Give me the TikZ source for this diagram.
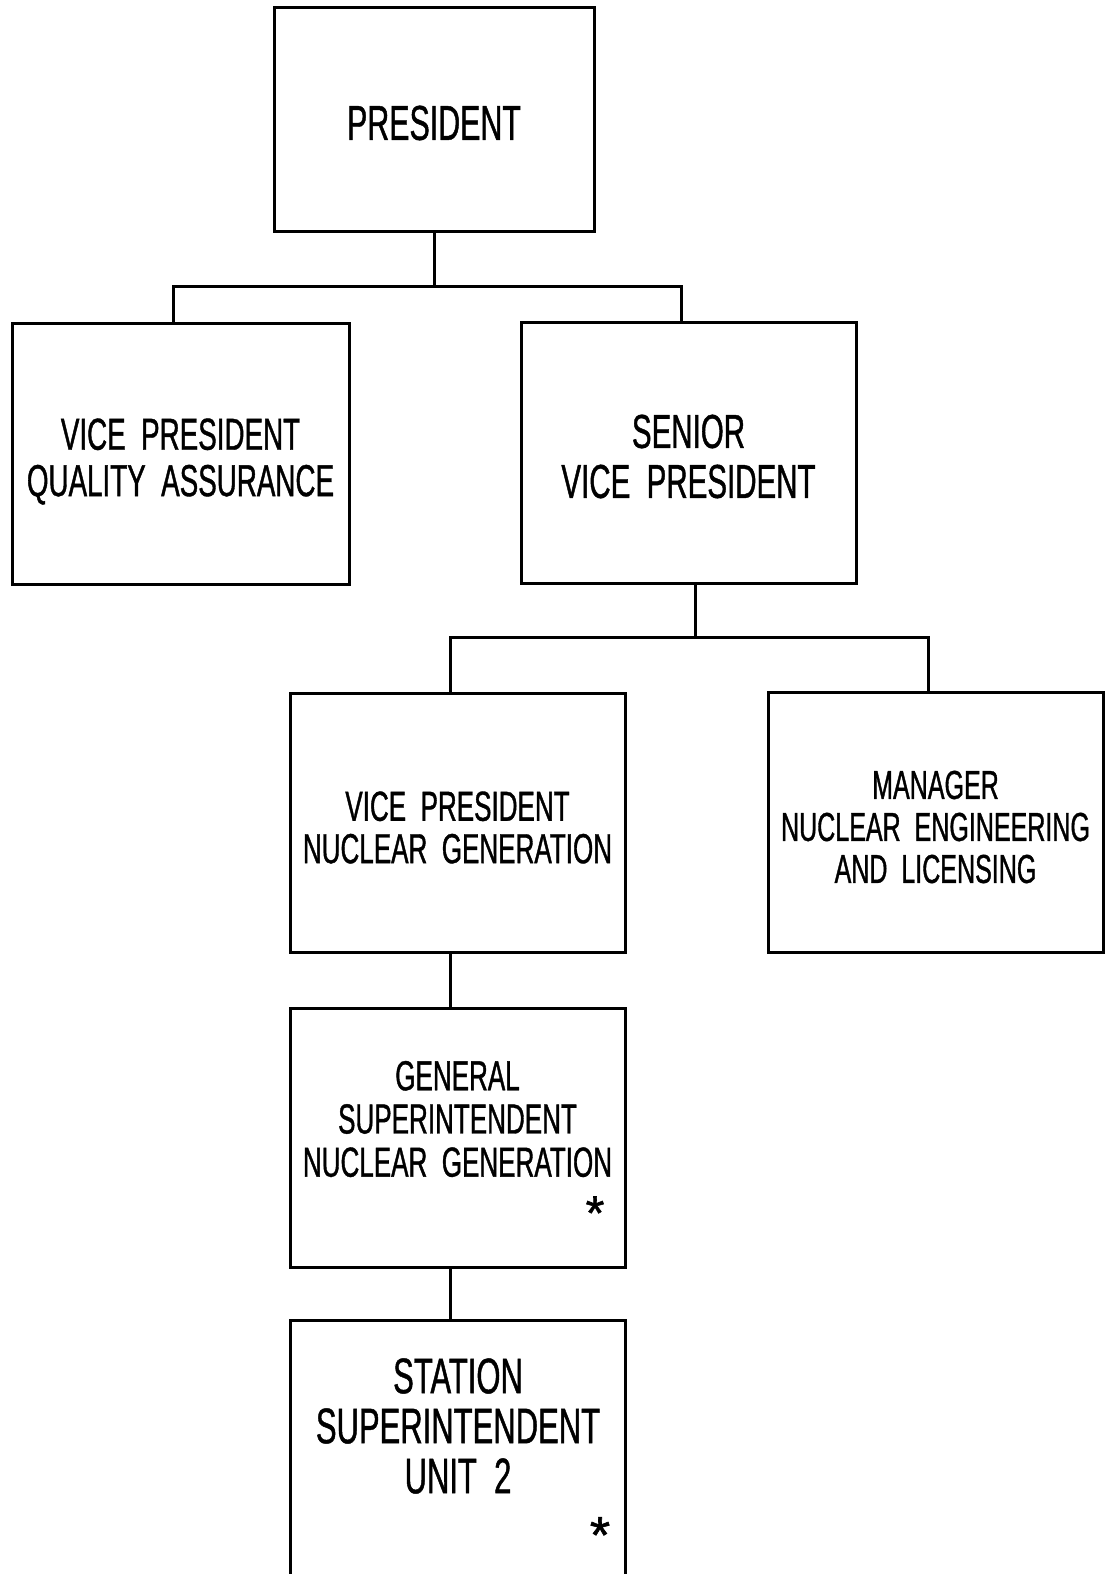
\documentclass[tikz,border=0pt]{standalone}
\usepackage{fontspec}
\setmainfont{Liberation Sans}[FakeStretch=0.62,FakeBold=0.9]
\newfontfamily\starfont{Liberation Sans}[FakeBold=1.2]
\begin{document}
\begin{tikzpicture}[x=0.5pt,y=-0.5pt,
  box/.style={draw,line width=1.5pt,inner sep=0pt},
  txt/.style={align=center,inner sep=0pt},
  wire/.style={line width=1.5pt},
  fs/.style 2 args={font=\fontsize{#1pt}{#2pt}\selectfont},
  star/.style={inner sep=0pt,font=\starfont\fontsize{#1pt}{#1pt}\selectfont}]
\useasboundingbox (0,0) rectangle (1110,1574);
\clip (0,0) rectangle (1110,1574);
% boxes
\node[box,minimum width=160pt,minimum height=112pt] (pres) at (434,119) {};
\node[box,minimum width=168.5pt,minimum height=130.5pt] (vpqa) at (180.5,453.5) {};
\node[box,minimum width=167.5pt,minimum height=130.5pt] (svp) at (688.5,452.5) {};
\node[box,minimum width=167.5pt,minimum height=129.5pt] (vpng) at (457.5,822.5) {};
\node[box,minimum width=167.5pt,minimum height=130pt] (mgr) at (935.5,822) {};
\node[box,minimum width=167.5pt,minimum height=129.5pt] (gs) at (457.5,1137.5) {};
\node[box,minimum width=167.5pt,minimum height=140pt] (ss) at (457.5,1460) {};
% titles
\node[txt,fs={24.5}{25.7}] (prest) at ([yshift=-2pt]pres.center) {PRESIDENT};
\node[txt,fs={22.4}{23.2}] (vpqat) at ([yshift=-4pt]vpqa.center)
  {VICE\ \ PRESIDENT\\QUALITY\ \ ASSURANCE};
\node[txt,fs={23.8}{25}] (svpt) at ([yshift=-2pt]svp.center)
  {SENIOR\\VICE\ \ PRESIDENT};
\node[txt,fs={21}{21.2}] (vpngt) at ([yshift=-2.5pt]vpng.center)
  {VICE\ \ PRESIDENT\\NUCLEAR\ \ GENERATION};
\node[txt,fs={20.2}{21}] (mgrt) at ([yshift=-2.5pt]mgr.center)
  {MANAGER\\NUCLEAR\ \ ENGINEERING\\AND\ \ LICENSING};
\node[txt,fs={21}{21.6}] (gst) at (457.5,1119)
  {GENERAL\\SUPERINTENDENT\\NUCLEAR\ \ GENERATION};
\node[star=24] (gsstar) at (595,1213) {*};
\node[txt,fs={25}{25}] (sst) at (458,1426)
  {STATION\\SUPERINTENDENT\\UNIT\ \ 2};
\node[star=26] (ssstar) at (600,1535) {*};
% connectors
\draw[wire] (pres.south) -- (pres.south |- 0,286);
\draw[wire] ([xshift=-3.5pt]vpqa.north) |- ([xshift=-3.5pt]svp.north |- 0,286)
  -- ([xshift=-3.5pt]svp.north);
\draw[wire] ([xshift=3.25pt]svp.south) -- ([xshift=3.25pt]svp.south |- 0,637);
\draw[wire] ([xshift=-3.75pt]vpng.north) |- ([xshift=-3.75pt]mgr.north |- 0,637)
  -- ([xshift=-3.75pt]mgr.north);
\draw[wire] ([xshift=-3.75pt]vpng.south) -- ([xshift=-3.75pt]gs.north);
\draw[wire] ([xshift=-3.75pt]gs.south) -- ([xshift=-3.75pt]ss.north);
\end{tikzpicture}
\end{document}
